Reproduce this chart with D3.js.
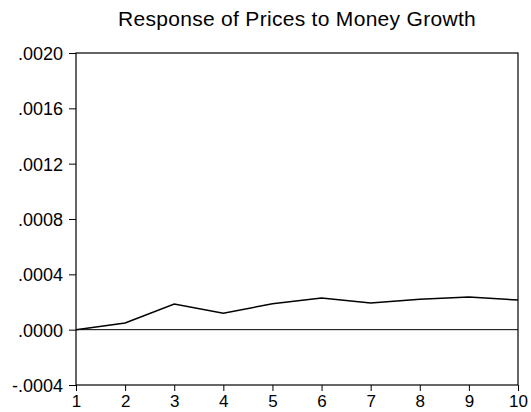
<!DOCTYPE html>
<html><head><meta charset="utf-8">
<script src="https://cdn.jsdelivr.net/npm/d3@7"></script>
<style>body{margin:0;background:#fff;} svg{display:block;} text{font-family:"Liberation Sans",Arial,sans-serif;fill:#000;}</style>
</head><body>
<svg id="chart" width="531" height="412"></svg>
<script>
const periods = [1,2,3,4,5,6,7,8,9,10];
const response = [0.0000, 0.000048, 0.000185, 0.000118, 0.000188, 0.000229, 0.000193, 0.000219, 0.000236, 0.000214];
const yTicks = [-0.0004, 0.0000, 0.0004, 0.0008, 0.0012, 0.0016, 0.0020];
const title = "Response of Prices to Money Growth";

const svg = d3.select("#chart");
const L = 76, R = 518, T = 53, B = 385;
const x = d3.scaleLinear().domain([1,10]).range([L,R]);
const y = d3.scaleLinear().domain([-0.0004,0.0020]).range([B,T]);
const fmt = v => { let s = Math.abs(v).toFixed(4).replace(/^0/, ""); return (v < -1e-12 ? "-" : "") + s; };

svg.append("text").attr("x", 297).attr("y", 26).attr("text-anchor","middle")
  .style("font-size","21px").style("letter-spacing","0.3px").text(title);

const yAxis = svg.append("g").attr("transform",`translate(${L},0)`)
  .call(d3.axisLeft(y).tickValues(yTicks).tickFormat(fmt).tickSizeOuter(0).tickSize(7).tickPadding(6));
yAxis.selectAll("text").style("font-size","18px").attr("dy","0.36em");
yAxis.select(".domain").remove();

const xAxis = svg.append("g").attr("transform",`translate(0,${B})`)
  .call(d3.axisBottom(x).tickValues(periods).tickFormat(d3.format("d")).tickSizeOuter(0).tickSize(6).tickPadding(4));
xAxis.selectAll("text").style("font-size","17px");
xAxis.select(".domain").remove();
svg.selectAll(".tick line").attr("stroke","#000");

svg.append("rect").attr("x",L).attr("y",T).attr("width",R-L).attr("height",B-T)
  .attr("fill","none").attr("stroke","#000").attr("stroke-width",1.2);

svg.append("line").attr("x1",L).attr("x2",R).attr("y1",y(0)).attr("y2",y(0))
  .attr("stroke","#000").attr("stroke-width",1);

svg.append("path").datum(periods.map((p,i)=>[p,response[i]]))
  .attr("fill","none").attr("stroke","#000").attr("stroke-width",1.5)
  .attr("d", d3.line().x(d=>x(d[0])).y(d=>y(d[1])));
</script>
</body></html>
